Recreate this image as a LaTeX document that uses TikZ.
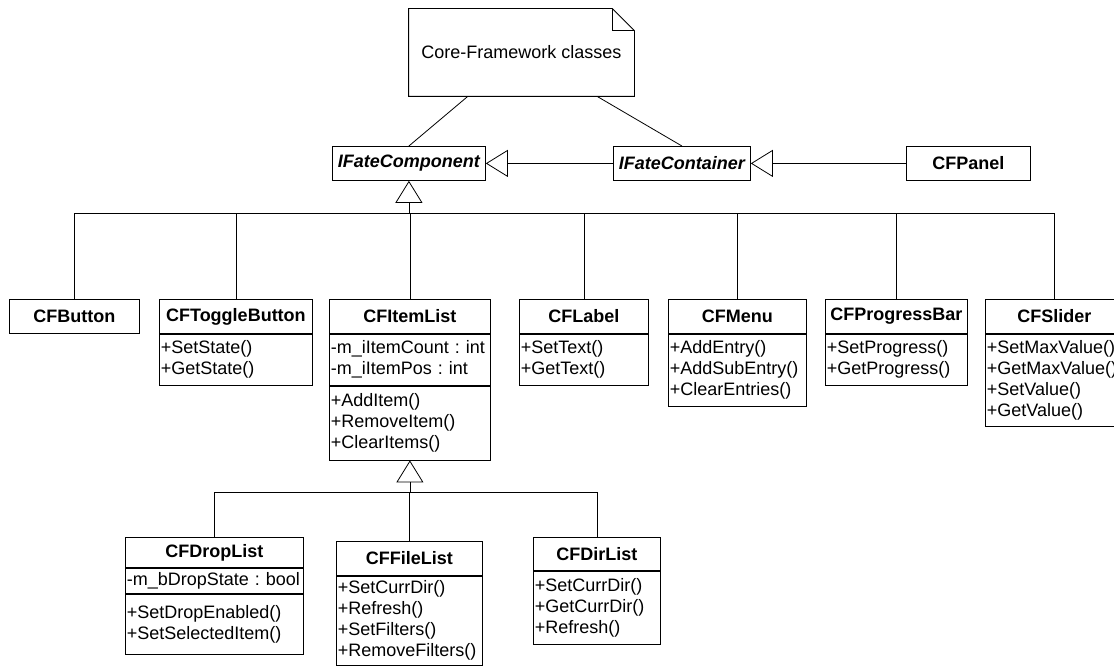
\documentclass[tikz,border=0pt]{standalone}
\usepackage{fontspec}
\setmainfont{Liberation Sans}
\usetikzlibrary{arrows.meta,calc}
\begin{document}
\begin{tikzpicture}[x=1pt,y=-1pt,line width=0.8pt,
  txt/.style={font=\fontsize{18}{21}\selectfont},
  head/.style={draw,anchor=north west,inner sep=0pt,minimum height=34pt,
    font=\fontsize{18}{21}\selectfont\bfseries},
  iface/.style={head,font=\fontsize{18}{21}\selectfont\bfseries\itshape},
  compart/.style={draw,anchor=north west,align=left,inner xsep=1.5pt,inner ysep=0pt,
    font=\fontsize{18}{21}\selectfont},
  inh/.style={-{Triangle[open,length=22pt,width=27pt]}},
  link/.style={draw}]
\useasboundingbox (0,0) rectangle (1114,666);

% note
\node[txt,minimum width=225pt,minimum height=87pt,inner sep=0pt] (note) at (521.5,52.5) {Core-Framework classes};
\draw (note.north west) -- ($(note.north east)+(-22,0)$) -- ($(note.north east)+(0,22)$)
  -- (note.south east) -- (note.south west) -- cycle;
\draw ($(note.north east)+(-22,0)$) -- ($(note.north east)+(-22,22)$) -- ($(note.north east)+(0,22)$);

% interfaces
\node[iface,minimum width=153pt] (ifcomp) at (332,146) {IFateComponent};
\node[iface,minimum width=137pt] (ifcont) at (613,146) {IFateContainer};
\node[head,minimum width=124pt] (panel) at (906,146) {CFPanel};

\draw[link] ($(note.south west)!0.262!(note.south east)$) -- (ifcomp.north);
\draw[link] ($(note.south west)!0.835!(note.south east)$) -- (ifcont.north);
\draw[inh] (ifcont.west) -- (ifcomp.east);
\draw[inh] (panel.west) -- (ifcont.east);

% first row of classes
\node[head,minimum width=130pt] (btn) at (9,299) {CFButton};

\node[head,minimum width=153pt] (tog) at (159,299) {CFToggleButton};
\node[compart,text width=150pt,minimum height=51pt] (togm) at (tog.south west) {+SetState()\\+GetState()};

\node[head,minimum width=161pt] (item) at (329,299) {CFItemList};
\node[compart,text width=158pt,minimum height=51pt] (itema) at (item.south west) {-m\_iItemCount~:~int\\-m\_iItemPos~:~int};
\node[compart,text width=158pt,minimum height=74pt] (itemm) at (itema.south west) {+AddItem()\\+RemoveItem()\\+ClearItems()};

\node[head,minimum width=129pt] (lab) at (519,299) {CFLabel};
\node[compart,text width=126pt,minimum height=51pt] (labm) at (lab.south west) {+SetText()\\+GetText()};

\node[head,minimum width=138pt] (menu) at (668,299) {CFMenu};
\node[compart,text width=135pt,minimum height=72pt] (menum) at (menu.south west) {+AddEntry()\\+AddSubEntry()\\+ClearEntries()};

\node[head,minimum width=142pt] (prog) at (825,299) {CFProgressBar};
\node[compart,text width=139pt,minimum height=51pt] (progm) at (prog.south west) {+SetProgress()\\+GetProgress()};

\node[head,minimum width=138pt] (sld) at (985,299) {CFSlider};
\node[compart,text width=135pt,minimum height=92pt] (sldm) at (sld.south west) {+SetMaxValue()\\+GetMaxValue()\\+SetValue()\\+GetValue()};

\coordinate (busA) at ($(ifcomp.south)+(0,33)$);
\draw[inh] (busA) -- (ifcomp.south);
\foreach \n in {btn,tog,item,lab,menu,prog,sld}
  \draw (\n.north) |- (busA);

% second row of classes
\node[head,minimum width=178pt,minimum height=30pt] (drop) at (125,537) {CFDropList};
\node[compart,text width=175pt,minimum height=25pt] (dropa) at (drop.south west) {-m\_bDropState~:~bool};
\node[compart,text width=175pt,minimum height=60pt] (dropm) at (dropa.south west) {+SetDropEnabled()\\+SetSelectedItem()};

\node[head,minimum width=146pt] (file) at (336,541) {CFFileList};
\node[compart,text width=143pt,minimum height=89pt] (filem) at (file.south west) {+SetCurrDir()\\+Refresh()\\+SetFilters()\\+RemoveFilters()};

\node[head,minimum width=127pt,minimum height=33pt] (dir) at (533,537) {CFDirList};
\node[compart,text width=124pt,minimum height=73pt] (dirm) at (dir.south west) {+SetCurrDir()\\+GetCurrDir()\\+Refresh()};

\coordinate (busB) at ($(itemm.south)+(0,32)$);
\draw[inh] (busB) -- (itemm.south);
\foreach \n in {drop,file,dir}
  \draw (\n.north) |- (busB);
\end{tikzpicture}
\end{document}
